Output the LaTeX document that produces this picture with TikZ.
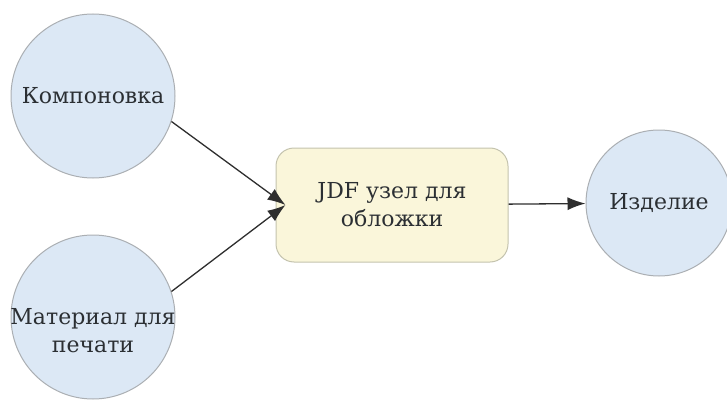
\documentclass[tikz,border=0pt]{standalone}
\usepackage{fontspec}
\setmainfont{DejaVu Serif}
\newfontfamily\diagfont{DejaVu Serif}
\usetikzlibrary{arrows.meta}

\definecolor{circfill}{HTML}{DCE8F5}
\definecolor{circline}{HTML}{ABAFB3}
\definecolor{boxfill}{HTML}{FAF6DA}
\definecolor{boxline}{HTML}{C4C3AE}
\definecolor{edgeline}{HTML}{2E2E2E}
\definecolor{lbltext}{HTML}{2B2F33}

\begin{document}
\begin{tikzpicture}[x=1pt,y=-1pt]
    \tikzset{lbl/.style = {font=\diagfont\fontsize{22}{28}\selectfont,text=lbltext,align=center}}
    \tikzset{vertex/.style = {shape=circle,draw=circline,fill=circfill,line width=1pt,minimum size=164pt,inner sep=0pt,lbl}}
    \tikzset{vertex2/.style = {shape=circle,draw=circline,fill=circfill,line width=1pt,minimum size=146pt,inner sep=0pt,lbl}}
    \tikzset{jdfbox/.style = {shape=rectangle,draw=boxline,fill=boxfill,line width=1pt,rounded corners=18pt,minimum width=232pt,minimum height=114pt,lbl}}
    \tikzset{edge/.style = {draw=edgeline,line width=1.3pt,-{Latex[length=18pt,width=13pt]}}}

    \useasboundingbox (0,0) rectangle (727,401);

    % vertices
    \node[vertex] (komp) at (93,96) {Компоновка};
    \node[vertex,label={[lbl,yshift=-14pt]center:Материал для\\печати}] (mat) at (93,317) {};
    \node[jdfbox] (jdf) at (392,205) {JDF узел для\\обложки};
    \node[vertex2] (izd) at (659,203) {Изделие};

    % edges
    \draw[edge] (komp.-18) to ([xshift=10pt]jdf.west);
    \draw[edge] (mat.18) to ([xshift=10pt]jdf.west);
    \draw[edge] (jdf) to (izd);
\end{tikzpicture}
\end{document}
